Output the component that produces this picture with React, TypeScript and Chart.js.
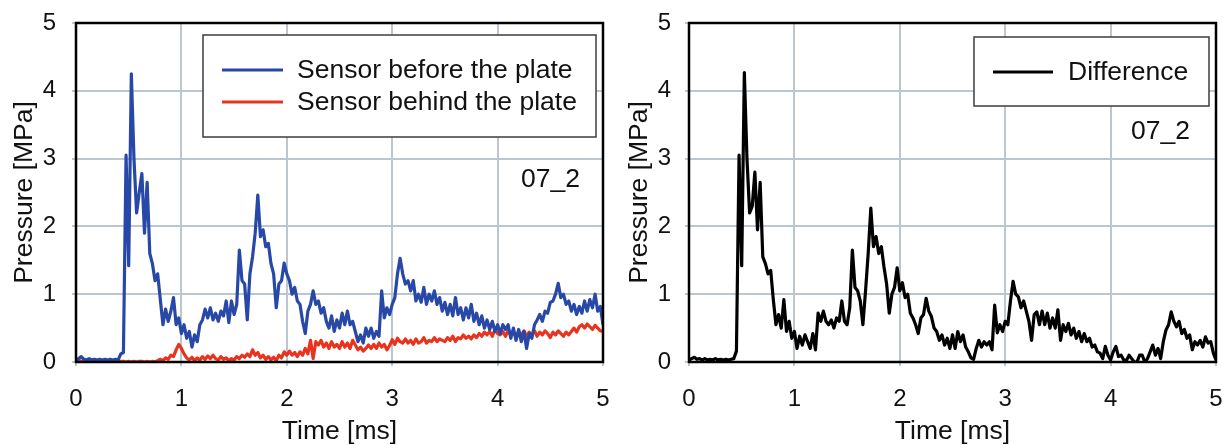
import React, { useEffect, useRef } from "react";
import { Chart, registerables } from "chart.js";

Chart.register(...registerables);

// ---- data ----
const SAMPLE_STEP_MS = 0.025; // sampling interval of the traces
const X_TICKS = [0, 1, 2, 3, 4, 5];
const Y_TICKS = [0, 1, 2, 3, 4, 5];
const LABEL_BEFORE = "Sensor before the plate";
const LABEL_BEHIND = "Sensor behind the plate";
const LABEL_DIFF = "Difference";
const TEST_TAG = "07_2";
const X_TITLE = "Time [ms]";
const Y_TITLE = "Pressure [MPa]";

const SENSOR_BEFORE = [
  0.03, 0.05, 0.08, 0.04, 0.03, 0.05, 0.03, 0.04, 0.03, 0.04,
  0.03, 0.04, 0.03, 0.04, 0.03, 0.04, 0.03, 0.12, 0.14, 3.05,
  1.42, 4.25, 3.0, 2.2, 2.5, 2.78, 1.9, 2.65, 1.6, 1.45,
  1.2, 1.3, 0.92, 0.55, 0.78, 0.6, 0.75, 0.95, 0.55, 0.65,
  0.42, 0.55, 0.35, 0.45, 0.22, 0.4, 0.3, 0.55, 0.62, 0.78,
  0.65, 0.8, 0.62, 0.72, 0.6, 0.75, 0.68, 0.9, 0.58, 0.9,
  0.7, 0.85, 1.65, 1.2, 1.15, 0.62, 1.3, 1.55, 1.9, 2.46,
  1.85, 1.95, 1.7, 1.75, 1.45, 1.3, 0.8, 1.15, 1.2, 1.46,
  1.3, 1.2, 1.0, 1.1, 0.9, 0.85, 0.6, 0.42, 0.75, 0.85,
  1.05, 0.85, 0.9, 0.72, 0.8, 0.6, 0.5, 0.68, 0.45, 0.62,
  0.5, 0.72, 0.55, 0.75, 0.55, 0.6, 0.45, 0.3, 0.4, 0.28,
  0.5, 0.38, 0.5, 0.35, 0.45, 0.38, 1.05, 0.65, 0.8, 0.7,
  0.85, 0.95, 1.3, 1.53, 1.3, 1.15, 1.2, 1.05, 1.2, 0.9,
  1.0, 0.88, 1.1, 0.85, 1.0, 0.9, 1.05, 0.85, 0.95, 0.75,
  0.88, 0.7, 0.85, 0.68, 0.95, 0.7, 0.8, 0.62, 0.8, 0.65,
  0.85, 0.6, 0.72, 0.55, 0.68, 0.5, 0.62, 0.48, 0.6, 0.45,
  0.55, 0.42, 0.55, 0.48, 0.55, 0.35, 0.5, 0.32, 0.48, 0.3,
  0.45, 0.2, 0.42, 0.35, 0.55, 0.62, 0.7, 0.6, 0.75, 0.72,
  0.88, 0.9, 1.0, 1.16, 0.95, 1.0, 0.85, 0.9, 0.75, 0.85,
  0.7, 0.82, 0.72, 0.9, 0.75, 0.92, 0.8, 1.0, 0.75, 0.82,
  0.55,
];

const SENSOR_BEHIND = [
  0.01, 0.02, 0.01, 0.01, 0.0, 0.01, 0.01, 0.0, 0.01, 0.01,
  0.0, 0.01, 0.01, 0.0, 0.01, 0.01, 0.0, 0.01, 0.01, 0.0,
  0.01, 0.0, 0.01, 0.0, 0.01, 0.01, 0.0, 0.01, 0.0, 0.01,
  0.0, 0.02, 0.04, 0.02, 0.06, 0.04, 0.1, 0.08, 0.18, 0.26,
  0.2, 0.12, 0.06, 0.03, 0.07, 0.02, 0.06, 0.03, 0.08, 0.04,
  0.09, 0.05, 0.1, 0.05, 0.03, 0.08, 0.04, 0.06, 0.02, 0.05,
  0.03, 0.08, 0.05, 0.1, 0.07, 0.12, 0.08, 0.18, 0.1, 0.14,
  0.06, 0.1, 0.04, 0.08, 0.03, 0.07, 0.02, 0.1, 0.06, 0.15,
  0.1, 0.16, 0.1, 0.14, 0.08, 0.15, 0.1, 0.2, 0.12, 0.32,
  0.05, 0.3, 0.25, 0.32, 0.22, 0.28, 0.2, 0.3, 0.22, 0.26,
  0.2, 0.3, 0.22, 0.28, 0.2, 0.32, 0.25, 0.18, 0.22, 0.16,
  0.2, 0.25, 0.2, 0.26, 0.2, 0.28, 0.22, 0.26, 0.18, 0.24,
  0.33, 0.26, 0.35, 0.3, 0.28, 0.34, 0.28, 0.32, 0.26, 0.34,
  0.28, 0.3, 0.36, 0.28, 0.32, 0.3, 0.36, 0.3, 0.34, 0.32,
  0.3, 0.36, 0.32, 0.38, 0.3, 0.36, 0.34, 0.4, 0.35, 0.38,
  0.34, 0.4, 0.36, 0.42, 0.38, 0.44, 0.4, 0.45, 0.38, 0.48,
  0.42, 0.4, 0.45, 0.38, 0.46, 0.4, 0.44, 0.38, 0.45, 0.4,
  0.46, 0.38, 0.44, 0.4, 0.46, 0.38, 0.44, 0.4, 0.46, 0.42,
  0.36, 0.44, 0.4, 0.46, 0.42, 0.38, 0.44, 0.4, 0.45, 0.5,
  0.44, 0.52, 0.55, 0.5, 0.56, 0.52, 0.48, 0.54, 0.5, 0.46,
  0.45,
];

const DIFFERENCE = [
  0.03, 0.05, 0.07, 0.04, 0.05, 0.03, 0.05, 0.03, 0.04, 0.03,
  0.05, 0.03, 0.04, 0.03, 0.04, 0.03, 0.04, 0.05, 0.16, 3.05,
  1.42, 4.27, 3.0, 2.2, 2.3, 2.8, 1.95, 2.65, 1.55, 1.45,
  1.3, 1.35, 0.92, 0.55, 0.7, 0.5, 0.92, 0.45, 0.6, 0.35,
  0.45, 0.2, 0.38, 0.25, 0.4, 0.3, 0.2, 0.42, 0.18, 0.72,
  0.6, 0.75, 0.6, 0.55, 0.62, 0.5, 0.65, 0.6, 0.9, 0.6,
  0.55, 0.8, 1.65, 1.1, 1.05, 0.9, 0.55, 1.05, 1.6, 2.27,
  1.7, 1.85, 1.6, 1.7, 1.4, 1.15, 0.72, 1.0, 1.1, 1.39,
  1.05, 1.17, 0.95, 1.0, 0.72, 0.65, 0.55, 0.42, 0.65, 0.7,
  0.94, 0.75, 0.67, 0.5, 0.45, 0.32, 0.4, 0.25, 0.35, 0.2,
  0.4, 0.2, 0.45, 0.3, 0.4, 0.22, 0.15, 0.06, 0.04, 0.2,
  0.32, 0.22, 0.3, 0.25, 0.3, 0.18, 0.84, 0.43, 0.55, 0.45,
  0.6, 0.55, 0.9, 1.19, 1.0, 0.96, 0.8, 0.9, 0.75, 0.6,
  0.32, 0.7, 0.74, 0.55, 0.75, 0.55, 0.72, 0.5, 0.65, 0.5,
  0.77, 0.32, 0.55, 0.45, 0.57, 0.4, 0.5, 0.35, 0.45, 0.3,
  0.42, 0.3, 0.35, 0.22, 0.25, 0.15, 0.13, 0.05, 0.23, 0.1,
  0.03, 0.15, 0.23, 0.08, 0.1, 0.03, 0.02, 0.1, 0.05, 0.0,
  0.0, 0.1, 0.1, 0.0, 0.05, 0.15, 0.25, 0.1, 0.2, 0.05,
  0.3, 0.47, 0.55, 0.74, 0.6, 0.52, 0.6, 0.42, 0.48, 0.35,
  0.4, 0.18, 0.3, 0.25, 0.32, 0.22, 0.37, 0.28, 0.3, 0.13,
  0.03,
];

const TIME_MS = SENSOR_BEFORE.map((_, i) => Number((i * SAMPLE_STEP_MS).toFixed(3)));

// ---- styling ----
const FONT = "'Liberation Sans', Arial, Helvetica, sans-serif";
const GRID = "#bcc6ce";
const BLUE = "#2848a8";
const RED = "#e8341f";
const BLACK = "#000000";
const TEXT_SIZE = 26.5;

const toPoints = (vals: number[]) => vals.map((y, i) => ({ x: TIME_MS[i], y }));

const overlayPlugin = {
  id: "overlay",
  afterDraw(chart: any, _args: any, opts: any) {
    const { ctx, chartArea: a } = chart;
    ctx.save();
    // legend box
    const lg = opts.legend;
    const bx = a.right - lg.right - lg.width;
    const by = a.top + lg.top;
    ctx.fillStyle = "#ffffff";
    ctx.fillRect(bx, by, lg.width, lg.height);
    ctx.strokeStyle = "#3c3c3c";
    ctx.lineWidth = 1.5;
    ctx.strokeRect(bx, by, lg.width, lg.height);
    ctx.font = `${lg.fontSize}px ${FONT}`;
    ctx.textBaseline = "middle";
    ctx.textAlign = "left";
    chart.data.datasets.forEach((ds: any, k: number) => {
      const cy = by + lg.firstRow + k * lg.rowGap;
      ctx.strokeStyle = ds.borderColor;
      ctx.lineWidth = 2.8;
      ctx.beginPath();
      ctx.moveTo(bx + lg.sampleStart, cy);
      ctx.lineTo(bx + lg.sampleEnd, cy);
      ctx.stroke();
      ctx.fillStyle = "#111";
      ctx.fillText(ds.label, bx + lg.textStart, cy + 1);
    });
    // test tag
    const tg = opts.tag;
    ctx.font = `${tg.fontSize}px ${FONT}`;
    ctx.textAlign = "right";
    ctx.fillStyle = "#111";
    ctx.fillText(tg.text, a.right - tg.right, a.top + tg.top);
    // plot frame
    ctx.strokeStyle = "#000";
    ctx.lineWidth = 2.5;
    ctx.strokeRect(a.left, a.top, a.right - a.left, a.bottom - a.top);
    ctx.restore();
  },
};

type Props = {
  width: number;
  datasets: any[];
  yWidth: number;
  yTickPad: number;
  padRight: number;
  legend: any;
  tag: any;
};

function PressureChart({ width, datasets, yWidth, yTickPad, padRight, legend, tag }: Props) {
  const ref = useRef<HTMLCanvasElement | null>(null);
  useEffect(() => {
    if (!ref.current) return;
    const chart = new Chart(ref.current, {
      type: "line",
      data: { datasets },
      options: {
        responsive: false,
        animation: false,
        devicePixelRatio: 1,
        parsing: false,
        normalized: true,
        layout: { padding: { top: 23, right: padRight, left: 0, bottom: 0 } },
        elements: {
          point: { radius: 0 },
          line: { tension: 0, borderWidth: 3.2, borderJoinStyle: "round" },
        },
        plugins: {
          legend: { display: false },
          tooltip: { enabled: false },
          overlay: { legend, tag },
        } as any,
        scales: {
          x: {
            type: "linear",
            min: 0,
            max: 5,
            afterBuildTicks: (s: any) => {
              s.ticks = X_TICKS.map((v) => ({ value: v }));
            },
            afterFit: (s: any) => {
              s.height = 83;
            },
            grid: { color: GRID, lineWidth: 2, tickLength: 4, tickColor: GRID, drawTicks: true },
            border: { display: false },
            ticks: {
              font: { family: FONT, size: 24, lineHeight: 2.8 },
              color: "#111",
              padding: 0,
              maxRotation: 0,
              autoSkip: false,
              callback: (v: any) => String(v),
            },
            title: {
              display: true,
              text: X_TITLE,
              color: "#111",
              font: { family: FONT, size: TEXT_SIZE, lineHeight: 1 },
              padding: 0,
            },
          },
          y: {
            type: "linear",
            min: 0,
            max: 5,
            afterBuildTicks: (s: any) => {
              s.ticks = Y_TICKS.map((v) => ({ value: v }));
            },
            afterFit: (s: any) => {
              s.width = yWidth;
            },
            grid: { color: GRID, lineWidth: 2, tickLength: 4, tickColor: GRID, drawTicks: true },
            border: { display: false },
            ticks: {
              font: { family: FONT, size: 24, lineHeight: 0.5 },
              color: "#111",
              padding: yTickPad,
              autoSkip: false,
              callback: (v: any) => String(v),
            },
            title: {
              display: true,
              text: Y_TITLE,
              color: "#111",
              font: { family: FONT, size: TEXT_SIZE, lineHeight: 1 },
              padding: { top: 11, bottom: 0 },
            },
          },
        },
      } as any,
      plugins: [overlayPlugin],
    });
    return () => chart.destroy();
  }, []);
  return (
    <canvas
      ref={ref}
      width={width}
      height={445}
      style={{ display: "block", width: `${width}px`, height: "445px" }}
    />
  );
}

export default function App() {
  const leftSets = [
    { label: LABEL_BEFORE, data: toPoints(SENSOR_BEFORE), borderColor: BLUE, backgroundColor: BLUE },
    { label: LABEL_BEHIND, data: toPoints(SENSOR_BEHIND), borderColor: RED, backgroundColor: RED },
  ];
  const rightSets = [
    { label: LABEL_DIFF, data: toPoints(DIFFERENCE), borderColor: BLACK, backgroundColor: BLACK },
  ];
  return (
    <div style={{ position: "absolute", left: 0, top: 0, width: 1231, height: 445, background: "#fff" }}>
      <div style={{ position: "absolute", left: 0, top: 0 }}>
        <PressureChart
          width={615}
          datasets={leftSets}
          yWidth={76}
          yTickPad={16}
          padRight={12}
          legend={{ right: 7, top: 12, width: 393, height: 102, firstRow: 35, rowGap: 32, sampleStart: 19, sampleEnd: 80, textStart: 94, fontSize: TEXT_SIZE }}
          tag={{ text: TEST_TAG, right: 23, top: 157, fontSize: TEXT_SIZE }}
        />
      </div>
      <div style={{ position: "absolute", left: 615, top: 0 }}>
        <PressureChart
          width={616}
          datasets={rightSets}
          yWidth={74}
          yTickPad={14}
          padRight={15}
          legend={{ right: 7, top: 14, width: 235, height: 69, firstRow: 35, rowGap: 32, sampleStart: 19, sampleEnd: 79, textStart: 94, fontSize: TEXT_SIZE }}
          tag={{ text: TEST_TAG, right: 26, top: 109, fontSize: TEXT_SIZE }}
        />
      </div>
    </div>
  );
}
